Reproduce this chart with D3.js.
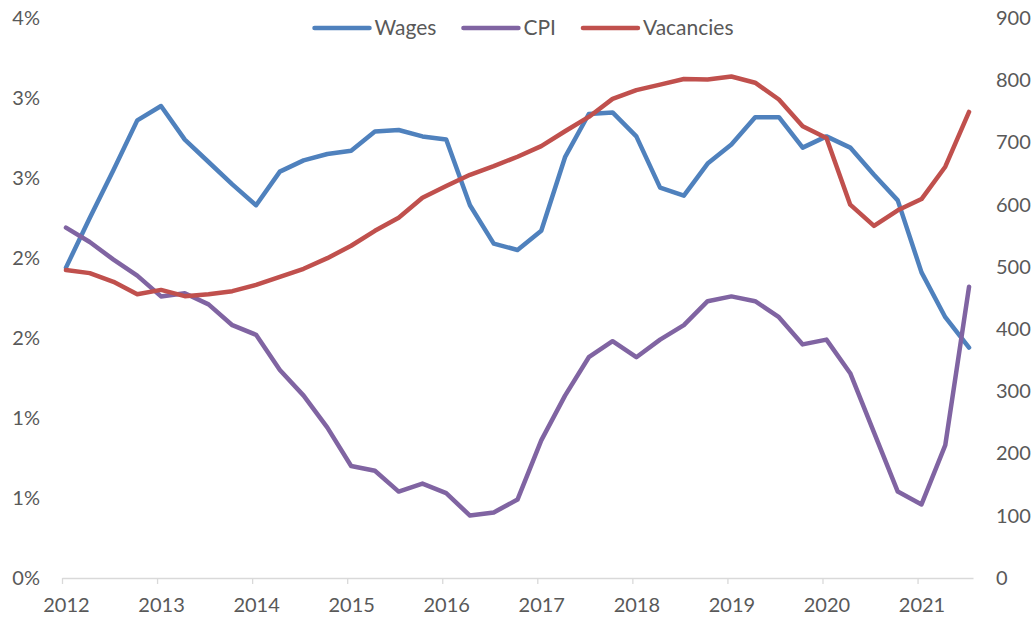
<!DOCTYPE html>
<html>
<head>
<meta charset="utf-8">
<script src="https://cdn.jsdelivr.net/npm/d3@7"></script>
<style>
  body { margin: 0; background: #fff; }
  text { font-family: Lato, "Liberation Sans", sans-serif; fill: #595959; }
</style>
</head>
<body>
<div id="chart"></div>
<script>
// quarterly series, Q1 2012 .. Q3 2021
var years = ["2012", "2013", "2014", "2015", "2016", "2017", "2018", "2019", "2020", "2021"];

var wages = [1.94, 2.25, 2.55, 2.86, 2.95, 2.74, 2.60, 2.46, 2.33, 2.54,
  2.61, 2.65, 2.67, 2.79, 2.80, 2.76, 2.74, 2.33, 2.09, 2.05,
  2.17, 2.63, 2.90, 2.91, 2.76, 2.44, 2.39, 2.59, 2.71, 2.88,
  2.88, 2.69, 2.76, 2.69, 2.52, 2.36, 1.91, 1.63, 1.44];

var cpi = [2.19, 2.10, 1.99, 1.89, 1.76, 1.78, 1.71, 1.58, 1.52, 1.30,
  1.14, 0.94, 0.70, 0.67, 0.54, 0.59, 0.53, 0.39, 0.41, 0.49,
  0.86, 1.14, 1.38, 1.48, 1.38, 1.49, 1.58, 1.73, 1.76, 1.73,
  1.63, 1.46, 1.49, 1.28, 0.91, 0.54, 0.46, 0.83, 1.82];

var vacancies = [495, 490, 476, 456, 463, 453, 456, 461, 471, 484,
  497, 514, 534, 558, 579, 611, 630, 648, 662, 677,
  694, 718, 741, 770, 784, 793, 802, 801, 806, 796,
  769, 726, 707, 600, 566, 591, 609, 661, 749];

var leftTicks = [0, 0.5, 1, 1.5, 2, 2.5, 3, 3.5];
var rightTicks = [0, 100, 200, 300, 400, 500, 600, 700, 800, 900];

(function() {
  var margin = { top: 18, left: 62, right: 63, bottom: 40 }
  var widthSvg = 1036
  var heightSvg = 618
  var widthScale = widthSvg - margin.left - margin.right
  var heightScale = heightSvg - margin.top - margin.bottom

  var mainSvg = d3.select("#chart").append("svg")
    .attr("width", widthSvg)
    .attr("height", heightSvg)

  var mainG = mainSvg.append("g")
    .attr("transform", "translate(" + margin.left + "," + margin.top + ")")

  // months since Jan 2012, each month is one slot; points sit in the slot middle
  var nMonths = (wages.length - 1) * 3 + 1
  var xPositionScale = d3.scaleLinear()
    .domain([0, nMonths])
    .range([0, widthScale])

  var yLeftScale = d3.scaleLinear()
    .domain([0, 3.5])
    .range([heightScale, 0])

  var yRightScale = d3.scaleLinear()
    .domain([0, 900])
    .range([heightScale, 0])

  var series = [
    { name: "Wages", values: wages, scale: yLeftScale, color: "#4F81BD" },
    { name: "CPI", values: cpi, scale: yLeftScale, color: "#8064A2" },
    { name: "Vacancies", values: vacancies, scale: yRightScale, color: "#C0504D" }
  ]

  generateAxes()
  generateLines()
  generateLegend()

  function generateAxes() {
    var yearTicks = years.map(function(d, i) { return i * 12 })

    var xAxis = d3.axisBottom(xPositionScale)
      .tickValues(yearTicks)
      .tickSize(6)
      .tickSizeOuter(0)
      .tickPadding(14)
      .tickFormat(function(d, i) { return years[i] })

    var xG = mainG.append("g")
      .attr("class", "axis x-axis")
      .attr("transform", "translate(0," + heightScale + ")")
      .call(xAxis)

    xG.select(".domain").attr("stroke", "#D9D9D9").attr("stroke-width", 1.3)
    xG.selectAll(".tick line").attr("stroke", "#D9D9D9").attr("stroke-width", 1.3)
    xG.selectAll(".tick text")
      .attr("x", xPositionScale(0.5) - xPositionScale(0))
      .style("font-size", "20px")
      .style("font-family", "Lato, sans-serif")
      .attr("fill", "#595959")

    var yAxis = d3.axisLeft(yLeftScale)
      .tickValues(leftTicks)
      .tickSize(0)
      .tickPadding(22)
      .tickFormat(function(d) { return Math.round(d) + "%" })

    var yG = mainG.append("g")
      .attr("class", "axis y-axis")
      .call(yAxis)
    yG.select(".domain").remove()
    yG.selectAll("text")
      .style("font-size", "20px")
      .style("font-family", "Lato, sans-serif")
      .attr("fill", "#595959")

    var yAxisRight = d3.axisRight(yRightScale)
      .tickValues(rightTicks)
      .tickSize(0)
      .tickPadding(23)

    var yRG = mainG.append("g")
      .attr("class", "axis y-axis-right")
      .attr("transform", "translate(" + widthScale + ",0)")
      .call(yAxisRight)
    yRG.select(".domain").remove()
    yRG.selectAll("text")
      .style("font-size", "20px")
      .style("font-family", "Lato, sans-serif")
      .attr("fill", "#595959")
  }

  function generateLines() {
    series.forEach(function(s) {
      var line = d3.line()
        .x(function(d, i) { return xPositionScale(i * 3 + 0.5) })
        .y(function(d) { return s.scale(d) })

      mainG.append("path")
        .datum(s.values)
        .attr("class", "line")
        .attr("fill", "none")
        .attr("stroke", s.color)
        .attr("stroke-width", 4.5)
        .attr("stroke-linejoin", "round")
        .attr("stroke-linecap", "round")
        .attr("d", line)
    })
  }

  function generateLegend() {
    var legend = mainSvg.append("g")
      .attr("class", "legend")
      .attr("transform", "translate(0,28)")

    var swatch = 55
    var gap = 5
    var itemGap = 27
    var items = legend.selectAll(".item")
      .data(series)
      .enter().append("g")
      .attr("class", "item")

    items.append("line")
      .attr("x1", 0)
      .attr("x2", swatch)
      .attr("stroke", function(d) { return d.color })
      .attr("stroke-width", 4.5)
      .attr("stroke-linecap", "round")

    items.append("text")
      .attr("x", swatch + gap)
      .attr("dy", "0.35em")
      .style("font-size", "21px")
      .text(function(d) { return d.name })

    var widths = []
    items.each(function() {
      widths.push(swatch + gap + d3.select(this).select("text").node().getComputedTextLength())
    })
    var total = d3.sum(widths) + itemGap * (widths.length - 1)
    var x = 524 - total / 2
    items.attr("transform", function(d, i) {
      var t = "translate(" + x + ",0)"
      x += widths[i] + itemGap
      return t
    })
  }
})();
</script>
</body>
</html>
